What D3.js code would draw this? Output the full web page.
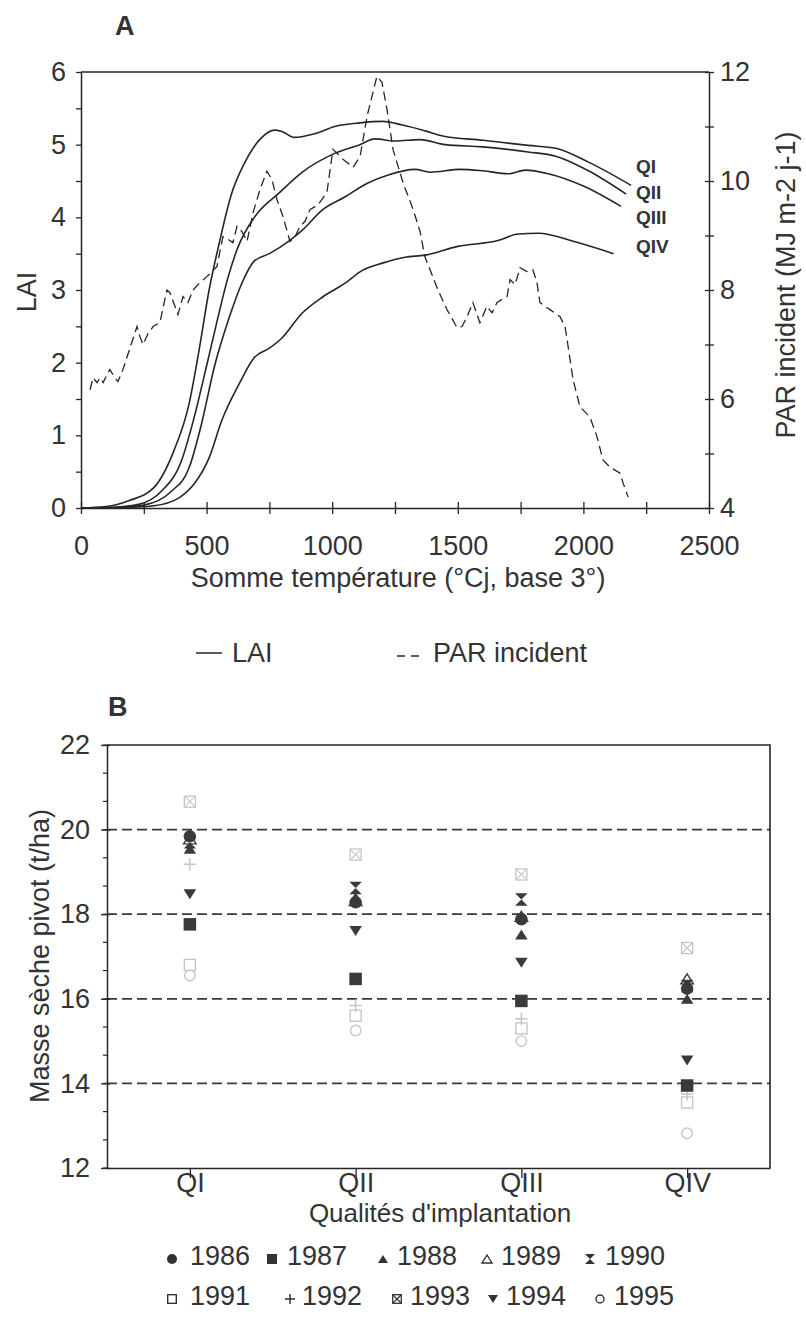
<!DOCTYPE html>
<html>
<head>
<meta charset="utf-8">
<script src="https://cdn.jsdelivr.net/npm/d3@7"></script>
<style>
body { margin: 0; background: #fff; }
svg { display: block; font-family: "Liberation Sans", Arial, sans-serif; }
</style>
</head>
<body>
<div class="container"></div>
<script>
const WIDTH = 806;
const HEIGHT = 1335;

// ---- chart A data : LAI per implantation quality, PAR incident ----
const QI_T   = [0, 100, 190, 290, 370, 430, 470, 510, 550, 600, 650, 720, 770, 800, 850, 930, 1010, 1110, 1200, 1280, 1370, 1440, 1600, 1780, 1890, 2020, 2190];
const QI_LAI = [0, 0.02, 0.1, 0.28, 0.79, 1.43, 2.17, 3.0, 3.64, 4.33, 4.74, 5.1, 5.2, 5.18, 5.1, 5.15, 5.25, 5.3, 5.32, 5.27, 5.19, 5.12, 5.06, 4.99, 4.95, 4.76, 4.44];

const QII_T   = [0, 130, 230, 320, 400, 450, 505, 545, 585, 625, 690, 790, 880, 1010, 1110, 1170, 1250, 1350, 1450, 1600, 1780, 1890, 2020, 2170];
const QII_LAI = [0, 0.01, 0.05, 0.23, 0.65, 1.24, 2.03, 2.62, 3.17, 3.59, 4.0, 4.34, 4.62, 4.88, 5.0, 5.08, 5.05, 5.07, 5.0, 4.97, 4.9, 4.84, 4.64, 4.32];

const QIII_T   = [0, 150, 250, 360, 430, 480, 530, 590, 640, 690, 750, 830, 880, 960, 1050, 1140, 1220, 1330, 1390, 1510, 1600, 1700, 1770, 1860, 2000, 2150];
const QIII_LAI = [0, 0.01, 0.04, 0.23, 0.55, 1.16, 1.93, 2.62, 3.09, 3.4, 3.5, 3.68, 3.82, 4.1, 4.28, 4.47, 4.58, 4.66, 4.62, 4.66, 4.64, 4.6, 4.65, 4.6, 4.43, 4.15];

const QIV_T   = [0, 200, 290, 390, 450, 510, 560, 630, 690, 750, 800, 880, 960, 1050, 1120, 1200, 1290, 1370, 1500, 1660, 1740, 1820, 1970, 2120];
const QIV_LAI = [0, 0.01, 0.03, 0.14, 0.33, 0.69, 1.2, 1.71, 2.07, 2.2, 2.34, 2.68, 2.9, 3.09, 3.27, 3.37, 3.45, 3.48, 3.6, 3.68, 3.77, 3.78, 3.66, 3.5];

const PAR_T = [36, 48, 64, 76, 88, 103, 115, 135, 147, 167, 223, 235, 247, 267, 287, 314, 342, 354, 386, 406, 426, 446, 474, 502, 541, 565, 585, 605, 621, 641, 661, 685, 713, 740, 760, 780, 804, 832, 852, 872, 892, 912, 932, 951, 979, 1003, 1043, 1083, 1111, 1139, 1178, 1198, 1218, 1242, 1282, 1322, 1350, 1361, 1369, 1389, 1421, 1457, 1497, 1517, 1537, 1560, 1588, 1616, 1636, 1656, 1696, 1708, 1728, 1748, 1775, 1799, 1815, 1827, 1847, 1867, 1907, 1927, 1935, 1959, 1986, 2026, 2054, 2078, 2106, 2146, 2158, 2178];
const PAR_VAL = [6.17, 6.39, 6.3, 6.39, 6.3, 6.44, 6.54, 6.39, 6.32, 6.54, 7.33, 7.14, 7.0, 7.2, 7.33, 7.4, 8.0, 7.95, 7.55, 7.88, 7.77, 8.0, 8.14, 8.25, 8.43, 8.98, 8.93, 8.87, 9.17, 9.07, 8.89, 9.42, 9.85, 10.18, 10.03, 9.66, 9.35, 8.89, 8.98, 9.17, 9.26, 9.48, 9.53, 9.61, 9.79, 10.58, 10.4, 10.25, 10.45, 11.19, 11.92, 11.81, 11.32, 10.58, 9.97, 9.48, 9.07, 8.8, 8.61, 8.38, 8.0, 7.64, 7.31, 7.33, 7.51, 7.77, 7.4, 7.7, 7.58, 7.77, 7.88, 8.19, 8.1, 8.41, 8.34, 8.37, 8.14, 7.77, 7.7, 7.64, 7.51, 7.33, 7.09, 6.35, 5.86, 5.67, 5.31, 4.88, 4.75, 4.64, 4.46, 4.2];

const X_TICKS_A = d3.range(0, 2501, 250);
const LAI_TICKS = d3.range(0, 6.01, 0.5);
const PAR_TICKS = d3.range(4, 12.01, 1);
const CURVE_NAMES = ['QI', 'QII', 'QIII', 'QIV'];

// ---- chart B data : dry mass of taproot per quality and year ----
const QUALITIES = ['QI', 'QII', 'QIII', 'QIV'];
const M1986 = [19.84, 18.28, 17.88, 16.24];
const M1987 = [17.76, 16.47, 15.95, 13.95];
const M1988 = [19.55, 18.4, 17.52, 16.0];
const M1989 = [19.78, 18.32, 17.95, 16.47];
const M1990 = [19.7, 18.62, 18.35, 16.3];
const M1991 = [16.8, 15.6, 15.3, 13.55];
const M1992 = [19.18, 15.84, 15.53, 13.75];
const M1993 = [20.66, 19.41, 18.94, 17.2];
const M1994 = [18.47, 17.6, 16.85, 14.54];
const M1995 = [16.55, 15.25, 15.0, 12.82];
const B_MAJOR = [12, 14, 16, 18, 20, 22];
const B_GRID = [14, 16, 18, 20];

const TEXT = '#333';
const INK = '#262626';
const FAINT = '#c6c6c6';

var A = {left: 81, right: 709, top: 72, bottom: 508};
var B = {left: 107, right: 770, top: 745, bottom: 1168};

var translate = function (x, y) {
    return 'translate(' + x + ',' + y + ')';
};

var styleAxis = function (g) {
    g.select('.domain').attr('stroke', INK).attr('stroke-width', 1.5);
    g.selectAll('.tick line').attr('stroke', INK).attr('stroke-width', 1.3);
    g.selectAll('text').attr('font-size', 27).attr('fill', TEXT)
        .attr('font-family', '"Liberation Sans", Arial, sans-serif');
};

var drawChartA = function (svg) {
    var xA = d3.scaleLinear().domain([0, 2500]).range([A.left, A.right]);
    var yLai = d3.scaleLinear().domain([0, 6]).range([A.bottom, A.top]);
    var yPar = d3.scaleLinear().domain([4, 12]).range([A.bottom, A.top]);

    svg.append('text').attr('x', 115).attr('y', 35).text('A')
        .attr('font-size', 27).attr('font-weight', 'bold').attr('fill', TEXT);

    // top of the frame
    svg.append('line')
        .attr('x1', xA(0)).attr('x2', xA(2500))
        .attr('y1', yLai(6)).attr('y2', yLai(6))
        .attr('stroke', INK).attr('stroke-width', 1.5);

    var gx = svg.append('g').attr('transform', translate(0, A.bottom))
        .call(d3.axisBottom(xA).tickValues(X_TICKS_A).tickSizeInner(6).tickSizeOuter(0).tickPadding(22)
            .tickFormat(function (d) { return d % 500 === 0 ? d : ''; }));
    gx.selectAll('.tick').append('line').attr('y2', -6);
    styleAxis(gx);

    var gl = svg.append('g').attr('transform', translate(A.left, 0))
        .call(d3.axisLeft(yLai).tickValues(LAI_TICKS).tickSizeInner(5).tickSizeOuter(0).tickPadding(10)
            .tickFormat(function (d) { return Number.isInteger(d) ? d : ''; }));
    styleAxis(gl);

    var gr = svg.append('g').attr('transform', translate(A.right, 0))
        .call(d3.axisRight(yPar).tickValues(PAR_TICKS).tickSizeInner(5).tickSizeOuter(0).tickPadding(6)
            .tickFormat(function (d) { return d % 2 === 0 ? d : ''; }));
    gr.selectAll('.tick').append('line').attr('x2', -4);
    styleAxis(gr);

    // axis titles
    svg.append('text').attr('transform', translate(27, 292) + ' rotate(-90)')
        .attr('text-anchor', 'middle').attr('dy', '0.35em')
        .attr('font-size', 27).attr('fill', TEXT).text('LAI');
    svg.append('text').attr('transform', translate(786, 285) + ' rotate(-90)')
        .attr('text-anchor', 'middle').attr('dy', '0.35em')
        .attr('font-size', 27).attr('fill', TEXT).text('PAR incident (MJ m-2 j-1)');
    svg.append('text').attr('x', 398).attr('y', 587).attr('text-anchor', 'middle')
        .attr('font-size', 27).attr('fill', TEXT).text('Somme température (°Cj, base 3°)');

    var laiLine = d3.line()
        .x(function (d) { return xA(d[0]); })
        .y(function (d) { return yLai(d[1]); })
        .curve(d3.curveMonotoneX);

    var parLine = d3.line()
        .x(function (d) { return xA(d[0]); })
        .y(function (d) { return yPar(d[1]); });

    var series = [
        d3.zip(QI_T, QI_LAI),
        d3.zip(QII_T, QII_LAI),
        d3.zip(QIII_T, QIII_LAI),
        d3.zip(QIV_T, QIV_LAI)
    ];

    svg.append('g').selectAll('path').data(series).enter().append('path')
        .attr('d', laiLine)
        .attr('fill', 'none').attr('stroke', INK).attr('stroke-width', 1.6);

    svg.append('path').attr('d', parLine(d3.zip(PAR_T, PAR_VAL)))
        .attr('fill', 'none').attr('stroke', INK).attr('stroke-width', 1.3)
        .attr('stroke-dasharray', '9,5');

    var labelY = [173, 199, 224, 253];
    svg.append('g').selectAll('text').data(CURVE_NAMES).enter().append('text')
        .attr('x', 636).attr('y', function (d, i) { return labelY[i]; })
        .attr('font-size', 19).attr('font-weight', 'bold').attr('fill', TEXT)
        .text(function (d) { return d; });

    // legend
    svg.append('line').attr('x1', 196).attr('x2', 222).attr('y1', 653).attr('y2', 653)
        .attr('stroke', INK).attr('stroke-width', 1.5);
    svg.append('text').attr('x', 232).attr('y', 662).attr('font-size', 27).attr('fill', TEXT).text('LAI');
    svg.append('line').attr('x1', 397).attr('x2', 421).attr('y1', 656).attr('y2', 656)
        .attr('stroke', INK).attr('stroke-width', 1.3).attr('stroke-dasharray', '8,6');
    svg.append('text').attr('x', 433).attr('y', 662).attr('font-size', 27).attr('fill', TEXT).text('PAR incident');
};

var drawMarker = function (g, shape, size, color) {
    var r = size / 2;
    if (shape === 'circle') {
        g.append('circle').attr('r', r).attr('fill', color);
    } else if (shape === 'circleOpen') {
        g.append('circle').attr('r', r - 1).attr('fill', '#fff').attr('stroke', color).attr('stroke-width', 1.4);
    } else if (shape === 'square') {
        g.append('rect').attr('x', -r).attr('y', -r).attr('width', size).attr('height', size).attr('fill', color);
    } else if (shape === 'squareOpen') {
        g.append('rect').attr('x', -r + 0.7).attr('y', -r + 0.7).attr('width', size - 1.4).attr('height', size - 1.4)
            .attr('fill', '#fff').attr('stroke', color).attr('stroke-width', 1.4);
    } else if (shape === 'squareX') {
        g.append('rect').attr('x', -r + 0.7).attr('y', -r + 0.7).attr('width', size - 1.4).attr('height', size - 1.4)
            .attr('fill', '#fff').attr('stroke', color).attr('stroke-width', 1.3);
        g.append('path').attr('d', 'M' + (-r + 1) + ',' + (-r + 1) + 'L' + (r - 1) + ',' + (r - 1) +
            'M' + (r - 1) + ',' + (-r + 1) + 'L' + (-r + 1) + ',' + (r - 1))
            .attr('stroke', color).attr('stroke-width', 1.2);
    } else if (shape === 'triangle' || shape === 'triangleOpen' || shape === 'triangleDown') {
        var h = size * 0.8;
        var pts = shape === 'triangleDown'
            ? [[-r, -h / 2], [r, -h / 2], [0, h / 2]]
            : [[0, -h / 2], [r, h / 2], [-r, h / 2]];
        var p = g.append('path').attr('d', 'M' + pts.join('L') + 'Z');
        if (shape === 'triangleOpen') {
            p.attr('fill', '#fff').attr('stroke', color).attr('stroke-width', 1.4);
        } else {
            p.attr('fill', color);
        }
    } else if (shape === 'hourglass') {
        g.append('path').attr('d', 'M' + (-r) + ',' + (-r) + 'L' + r + ',' + (-r) + 'L' + (-r) + ',' + r +
            'L' + r + ',' + r + 'Z').attr('fill', color);
    } else if (shape === 'plus') {
        g.append('path').attr('d', 'M' + (-r) + ',0L' + r + ',0M0,' + (-r) + 'L0,' + r)
            .attr('stroke', color).attr('stroke-width', 1.5);
    }
};

var drawChartB = function (svg) {
    var xB = d3.scalePoint().domain(QUALITIES).range([B.left, B.right]).padding(0.5);
    var yB = d3.scaleLinear().domain([12, 22]).range([B.bottom, B.top]);

    var seriesB = [
        {year: '1986', values: M1986, shape: 'circle', faint: false},
        {year: '1987', values: M1987, shape: 'square', faint: false},
        {year: '1988', values: M1988, shape: 'triangle', faint: false},
        {year: '1989', values: M1989, shape: 'triangleOpen', faint: false},
        {year: '1990', values: M1990, shape: 'hourglass', faint: false},
        {year: '1991', values: M1991, shape: 'squareOpen', faint: true},
        {year: '1992', values: M1992, shape: 'plus', faint: true},
        {year: '1993', values: M1993, shape: 'squareX', faint: true},
        {year: '1994', values: M1994, shape: 'triangleDown', faint: false},
        {year: '1995', values: M1995, shape: 'circleOpen', faint: true}
    ];

    svg.append('text').attr('x', 108).attr('y', 716).text('B')
        .attr('font-size', 27).attr('font-weight', 'bold').attr('fill', TEXT);

    // dashed grid
    svg.append('g').selectAll('line').data(B_GRID).enter().append('line')
        .attr('x1', B.left).attr('x2', B.right)
        .attr('y1', function (d) { return yB(d); }).attr('y2', function (d) { return yB(d); })
        .attr('stroke', '#3a3a3a').attr('stroke-width', 1.8).attr('stroke-dasharray', '10,5');

    // frame top and right
    svg.append('path')
        .attr('d', 'M' + B.left + ',' + yB(22) + 'H' + B.right + 'V' + yB(12))
        .attr('fill', 'none').attr('stroke', INK).attr('stroke-width', 1.6);

    var minor = d3.range(0, 16).map(function (k) { return 12 + k * 2 / 3; });
    svg.append('g').selectAll('line').data(minor).enter().append('line')
        .attr('x1', B.left - 4).attr('x2', B.left)
        .attr('y1', function (d) { return yB(d); }).attr('y2', function (d) { return yB(d); })
        .attr('stroke', INK).attr('stroke-width', 1.2);

    var gl = svg.append('g').attr('transform', translate(B.left, 0))
        .call(d3.axisLeft(yB).tickValues(B_MAJOR).tickSizeInner(6).tickSizeOuter(0).tickPadding(11));
    gl.selectAll('.tick').append('line').attr('x2', 3);
    styleAxis(gl);

    var gx = svg.append('g').attr('transform', translate(0, B.bottom))
        .call(d3.axisBottom(xB).tickSizeInner(10).tickSizeOuter(0).tickPadding(-5));
    styleAxis(gx);

    svg.append('text').attr('transform', translate(40, 956) + ' rotate(-90)')
        .attr('text-anchor', 'middle').attr('dy', '0.35em')
        .attr('font-size', 27).attr('fill', TEXT).text('Masse sèche pivot (t/ha)');
    svg.append('text').attr('x', 440).attr('y', 1222).attr('text-anchor', 'middle')
        .attr('font-size', 26).attr('fill', TEXT).text("Qualités d'implantation");

    // points: faint years first, then the open triangle, then the dark ones on top
    var rank = function (s) { return s.faint ? 0 : (s.shape === 'triangleOpen' ? 1 : 2); };
    var ordered = seriesB.slice().sort(function (a, b) { return rank(a) - rank(b); });
    ordered.forEach(function (s) {
        s.values.forEach(function (v, i) {
            var g = svg.append('g').attr('transform', translate(xB(QUALITIES[i]), yB(v)));
            drawMarker(g, s.shape, 12.5, s.faint ? FAINT : '#3a3a3a');
        });
    });

    // legend
    var legX = [[172, 190], [272, 287], [383, 397], [487, 501], [590, 605],
                [172, 190], [290, 302], [397, 410], [493, 506], [600, 614]];
    var legY = [1256, 1296];
    seriesB.forEach(function (s, i) {
        var row = Math.floor(i / 5);
        var g = svg.append('g').attr('transform', translate(legX[i][0], legY[row] + 3));
        drawMarker(g, s.shape, 10, '#333');
        svg.append('text').attr('x', legX[i][1]).attr('y', legY[row]).attr('dy', '0.35em')
            .attr('font-size', 27).attr('fill', TEXT).text(s.year);
    });
};

var generateChart = function () {
    var svg = d3.select('.container').append('svg')
        .attr('width', WIDTH)
        .attr('height', HEIGHT);
    drawChartA(svg);
    drawChartB(svg);
};

window.onload = generateChart;
</script>
</body>
</html>
